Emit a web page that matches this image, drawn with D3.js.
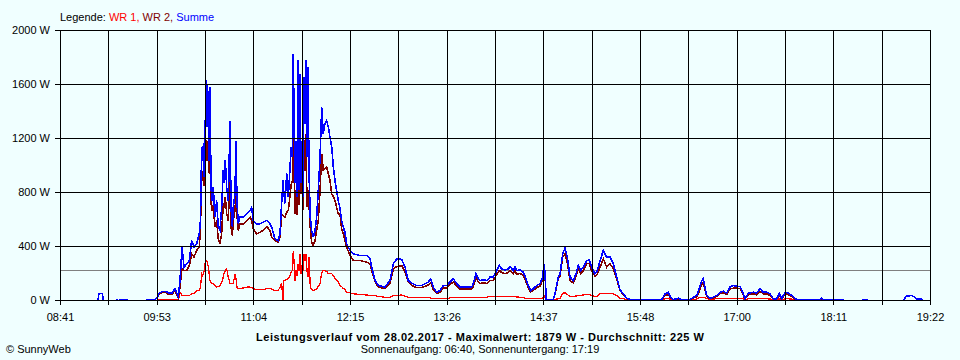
<!DOCTYPE html>
<html><head><meta charset="utf-8">
<script src="https://cdn.jsdelivr.net/npm/d3@7"></script>
<style>
html,body{margin:0;padding:0;background:#f0ffff;}
svg{display:block;font-family:"Liberation Sans",Arial,sans-serif;}
</style></head><body>
<svg id="c" width="960" height="360"></svg>
<script>
// time of day in minutes since midnight
const minutes = [
521.5,549.5,550.2,552.8,553.2,562.8,563.5,564.2,567.2,570.9,
571.6,584.9,585.6,591.5,593.0,594.4,596.7,599.6,601.8,604.0,
606.2,607.7,608.7,609.9,611.4,612.9,614.9,616.8,618.5,620.2,
622.2,624.1,625.0,625.9,626.6,627.2,627.8,628.3,629.1,629.6,
630.0,630.8,631.3,632.0,632.8,633.5,634.4,635.7,636.9,638.1,
639.4,640.6,641.8,642.5,643.3,644.3,645.5,646.8,647.5,648.5,
649.2,650.4,651.2,651.9,652.9,654.1,656.6,659.1,661.5,662.7,
663.9,666.4,668.9,671.3,673.8,676.2,677.5,679.9,682.3,683.6,
684.8,685.8,686.3,687.3,688.5,689.7,691.0,691.7,692.7,693.4,
694.1,694.6,695.4,696.1,696.9,697.6,698.3,699.1,699.8,700.5,
701.3,702.0,702.7,703.5,704.2,705.0,705.9,706.9,708.1,709.4,
710.6,711.8,713.1,714.3,715.5,716.7,718.0,719.2,720.4,721.7,
722.9,724.1,726.5,727.8,729.0,730.2,731.5,732.7,735.2,737.6,
742.5,747.5,749.9,751.1,753.6,756.0,760.9,764.6,767.1,769.6,
773.3,775.7,778.1,780.6,784.3,788.0,790.4,792.9,794.6,796.5,
799.0,801.5,803.9,806.4,808.8,811.3,813.8,816.2,821.1,824.8,
826.0,828.0,829.7,830.9,833.4,835.9,838.3,840.7,843.2,845.2,
846.9,849.4,851.8,853.1,855.5,856.7,858.0,860.4,862.9,864.8,
866.5,868.3,870.2,872.7,875.2,877.1,878.1,878.8,879.8,884.9,
886.2,888.6,889.9,891.9,893.6,895.3,897.3,899.7,901.7,903.4,
905.1,907.1,909.6,911.5,913.2,915.7,917.4,919.4,921.8,924.3,
926.7,929.2,931.7,934.1,936.6,939.0,941.5,964.8,967.3,969.7,
971.4,973.4,977.0,979.6,985.7,988.1,990.6,992.5,994.3,995.5,
996.7,998.0,1000.4,1002.8,1005.3,1007.8,1010.2,1012.7,1015.1,1017.6,
1020.1,1022.5,1024.5,1026.2,1028.6,1032.3,1034.8,1037.2,1039.7,1042.2,
1044.6,1047.1,1049.6,1051.5,1053.3,1055.7,1058.2,1060.7,1063.1,1065.5,
1081.5,1082.7,1083.9,1098.6,1099.1,1112.8,1113.3,1115.8,1116.4,1143.3,
1144.4,1145.3,1149.0,1151.4,1152.7,1156.4,1157.0,1162.5
];
// Summe (W)
const summe = [
0,0,52,52,0,0,7,0,7,7,
0,0,7,9,17,52,67,67,54,54,
87,52,30,148,395,247,272,296,444,395,
420,494,593,1136,1037,1163,913,1185,1630,1284,
1607,1481,1037,1580,839,741,839,617,741,543,
519,691,963,867,1037,839,741,1333,691,543,
691,790,1185,719,568,617,617,644,667,691,
593,568,568,580,593,568,543,457,444,496,
719,889,815,719,941,765,987,1136,1061,1827,
1237,867,1185,765,1778,815,1679,867,1185,765,
1654,1309,1778,1061,1728,939,617,519,469,519,
617,815,1061,1432,1235,1309,1333,1284,1210,1136,
987,889,741,681,593,543,504,420,370,346,
333,333,309,247,148,111,99,148,272,309,
304,247,148,128,111,111,124,136,161,99,
61,74,111,111,136,161,124,99,99,99,
124,198,161,148,153,148,173,173,222,259,
235,227,235,252,222,247,222,227,210,161,
111,74,87,111,124,173,272,210,7,7,
50,173,198,346,390,321,173,148,198,259,
222,247,296,301,247,198,222,296,370,321,
321,272,173,79,50,17,7,7,50,61,
24,7,17,7,7,24,37,87,148,161,
99,37,17,24,37,61,69,54,99,111,
106,104,61,13,54,61,54,87,61,61,
50,13,13,54,13,61,54,37,13,7,
7,17,7,7,0,0,7,7,0,0,
30,32,37,24,13,13,0,0
];
// WR 2 (W)
const wr2 = [
0,0,52,52,0,0,7,0,7,7,
0,0,7,9,17,44,59,59,44,44,
74,41,22,99,237,222,222,259,346,321,
370,395,543,963,889,926,852,1037,1185,1037,
1136,1185,941,1037,719,667,704,543,593,459,
420,496,719,704,765,644,593,963,543,481,
593,667,790,630,519,568,568,593,617,593,
531,494,506,519,548,519,469,444,432,469,
642,630,622,617,652,667,778,852,889,1284,
889,642,815,630,1061,704,1358,790,963,667,
1185,963,1235,691,815,704,543,432,407,444,
519,593,815,1087,963,978,987,939,889,790,
770,741,642,637,533,494,444,395,333,296,
296,284,272,222,141,99,87,124,235,252,
259,210,136,111,96,96,104,115,133,81,
52,61,93,93,119,137,107,85,85,85,
104,170,137,126,130,126,148,148,193,222,
207,200,207,222,196,219,196,200,185,141,
96,63,74,96,107,152,252,193,6,6,
44,163,178,321,346,281,148,130,178,235,
200,222,272,274,222,178,196,247,309,247,
272,237,161,74,44,15,6,6,37,44,
19,6,13,6,6,19,26,67,119,133,
81,30,13,19,30,50,56,44,85,91,
91,89,52,10,42,48,42,69,50,50,
37,10,10,41,10,50,44,30,10,6,
6,13,6,6,0,0,7,7,0,0,
30,32,37,24,13,13,0,0
];
// WR 1 (W)
const wr1 = [
0,0,0,0,0,0,0,0,0,0,
0,0,0,0,0,5,5,5,5,5,
5,5,5,61,37,37,37,37,50,50,
74,74,99,198,185,198,222,272,296,296,
281,247,207,148,133,124,124,111,99,104,
111,133,173,207,222,235,173,124,124,124,
124,198,163,99,89,87,93,99,99,96,
87,81,79,81,87,87,85,74,74,99,
126,0,148,148,156,161,185,207,222,370,
259,148,222,185,272,222,346,198,259,222,
346,296,346,222,173,319,99,81,74,81,
87,104,124,207,222,222,215,198,198,198,
185,161,141,111,104,89,81,61,56,50,
44,41,37,37,37,30,24,24,37,37,
41,33,24,24,24,24,24,22,19,13,
13,13,13,13,19,24,24,24,24,24,
24,24,24,24,24,24,30,32,32,32,
32,32,32,32,32,30,26,24,22,13,
13,13,13,13,13,19,37,22,0,0,
7,13,15,54,56,44,30,30,33,37,
37,41,44,44,37,30,33,52,54,54,
54,48,37,17,13,5,5,5,13,13,
7,5,5,5,5,7,11,22,24,24,
19,13,10,11,13,13,13,13,17,17,
17,17,13,5,13,13,13,15,13,13,
11,5,5,13,5,13,13,10,5,5,
5,5,5,5,0,0,0,0,0,0,
0,0,0,0,0,0,0,0
];
const xTickLabels = ["08:41","09:53","11:04","12:15","13:26","14:37","15:48","17:00","18:11","19:22"];
const yTicks = [0,400,800,1200,1600,2000];
const average = 225;
const timeStart = 521.5, timeEnd = 1162.5;
const legendParts = [["Legende: ","#000000"],["WR 1, ","#ff0000"],["WR 2, ","#800000"],["Summe","#0000ff"]];
const titleText = "Leistungsverlauf vom 28.02.2017 - Maximalwert: 1879 W - Durchschnitt: 225 W";
const subText = "Sonnenaufgang: 06:40, Sonnenuntergang: 17:19";
const copyText = "\u00a9 SunnyWeb";

const svg = d3.select("#c");
const L = 60, R = 930, T = 30, B = 300;
const x = d3.scaleLinear().domain([timeStart, timeEnd]).range([L, R]);
const y = d3.scaleLinear().domain([0, 2000]).range([B, T]);
const gridTimes = d3.range(19).map(i => timeStart + i * (timeEnd - timeStart) / 18);

svg.append("rect").attr("width",960).attr("height",360).attr("fill","#f0ffff");

// average line
svg.append("line").attr("x1",L).attr("x2",R)
  .attr("y1",Math.round(y(average))+0.5).attr("y2",Math.round(y(average))+0.5)
  .attr("stroke","#808080").attr("stroke-width",1).attr("shape-rendering","crispEdges");

// data lines
const series = [[wr1,"#ff0000",1.3],[wr2,"#800000",1.6],[summe,"#0000ff",1.6]];
series.forEach(([vals,col,w]) => {
  const line = d3.line().x((d,i)=>x(minutes[i])).y(d=>y(d)+0.5);
  svg.append("path").datum(vals).attr("d",line).attr("fill","none")
    .attr("stroke",col).attr("stroke-width",w).attr("stroke-linejoin","miter")
    .attr("shape-rendering","crispEdges");
});

// grid
const grid = svg.append("g").attr("shape-rendering","crispEdges").attr("stroke","#000").attr("stroke-width",1);
yTicks.filter(v=>v>0).forEach(v=>{
  grid.append("line").attr("x1",L).attr("x2",R+1).attr("y1",Math.round(y(v))+0.5).attr("y2",Math.round(y(v))+0.5);
});
gridTimes.forEach(t=>{
  const xx = Math.round(x(t))+0.5;
  grid.append("line").attr("x1",xx).attr("x2",xx).attr("y1",T).attr("y2",B);
});

// axes
const xAxis = d3.axisBottom(x).tickValues(gridTimes).tickSize(5).tickSizeOuter(0).tickPadding(8)
  .tickFormat((d,i)=> i%2===0 ? xTickLabels[i/2] : "");
const gx = svg.append("g").attr("transform",`translate(0,${B})`).call(xAxis);
const yAxis = d3.axisLeft(y).tickValues(yTicks).tickSize(5).tickSizeOuter(0).tickPadding(5)
  .tickFormat(d=> d + " W");
const gy = svg.append("g").attr("transform",`translate(${L},0)`).call(yAxis);
[gx,gy].forEach(g=>{
  g.attr("font-family","'Liberation Sans',Arial,sans-serif").attr("font-size",11);
  g.selectAll("line,path").attr("stroke","#000").attr("shape-rendering","crispEdges");
  g.selectAll("text").attr("fill","#000");
});

// legend
const lg = svg.append("text").attr("x",60).attr("y",20.5).attr("font-size",11);
legendParts.forEach(([t,c])=> lg.append("tspan").attr("fill",c).text(t));

svg.append("text").attr("x",480).attr("y",340.5).attr("text-anchor","middle")
  .attr("font-size",11).attr("font-weight","bold").text(titleText)
  .attr("textLength",448).attr("lengthAdjust","spacing");
svg.append("text").attr("x",480).attr("y",353).attr("text-anchor","middle")
  .attr("font-size",11).text(subText);
svg.append("text").attr("x",6).attr("y",353).attr("font-size",11).text(copyText);
</script>
</body></html>
